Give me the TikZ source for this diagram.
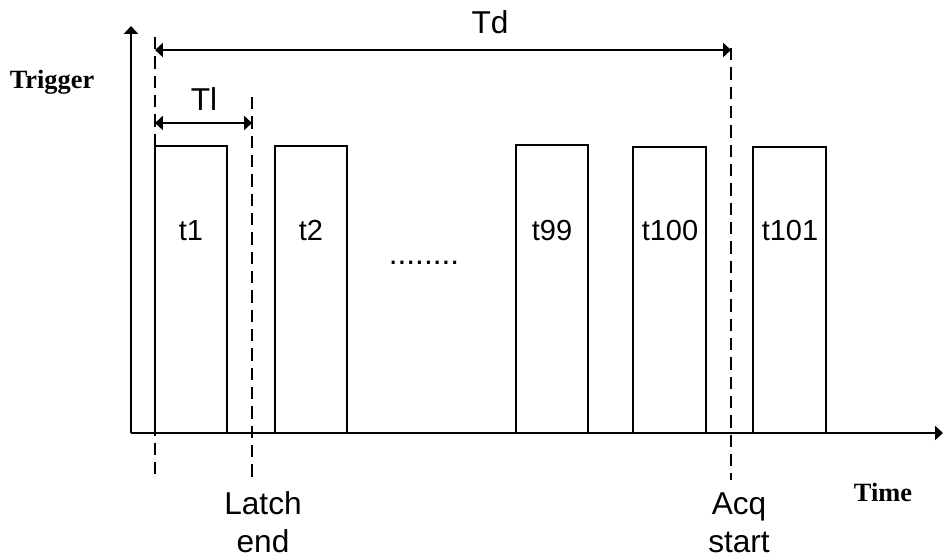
\documentclass[tikz,border=0pt]{standalone}
\usepackage{fontspec}
\setmainfont{Liberation Sans}
\newfontfamily\serifbf{Liberation Serif}
\usetikzlibrary{arrows.meta}
\begin{document}
\begin{tikzpicture}[x=0.02cm,y=-0.02cm,line width=1.1pt]
\tikzstyle{lbl}=[anchor=base, inner sep=0pt, align=center, font=\fontsize{18}{21.5}\selectfont]
\tikzstyle{plbl}=[anchor=base, inner sep=0pt, font=\fontsize{16.5}{20}\selectfont]
\tikzstyle{axlbl}=[anchor=base, inner sep=0pt, font=\serifbf\bfseries\fontsize{15}{18}\selectfont]
\tikzstyle{tip}=[-{Triangle[length=4.5pt,width=8pt]}]
\tikzstyle{dim}=[{Triangle[length=4.5pt,width=8pt]}-{Triangle[length=4.5pt,width=8pt]}]
\tikzstyle{marker}=[dash pattern=on 7pt off 4pt, line width=1pt]
    \useasboundingbox (0,0) rectangle (944,559);

    \coordinate (o) at (131,433);
    \coordinate (ytop) at (131,26);
    \coordinate (xend) at (943,433);
    \draw[tip] (o) -- (ytop);
    \draw[tip] (o) -- (xend);

    \draw (155,433) |- (227,146) -- (227,433);
    \draw (275,433) |- (347,146) -- (347,433);
    \draw (516,433) |- (588,145) -- (588,433);
    \draw (633,433) |- (706,147) -- (706,433);
    \draw (753,433) |- (826,147) -- (826,433);

    \coordinate (s0) at (155,37);
    \coordinate (s1) at (155,477);
    \coordinate (l0) at (252,97);
    \coordinate (l1) at (252,483);
    \coordinate (a0) at (731,48);
    \coordinate (a1) at (731,480);
    \draw[marker] (s0) -- (s1);
    \draw[marker] (l0) -- (l1);
    \draw[marker] (a0) -- (a1);

    \coordinate (tdl) at (155,50);
    \coordinate (tdr) at (731,50);
    \coordinate (tll) at (155,123);
    \coordinate (tlr) at (252,123);
    \draw[dim] (tdl) -- (tdr);
    \draw[dim] (tll) -- (tlr);

    \node[lbl] (Td) at (490,33) {Td};
    \node[lbl] (Tl) at (204,110) {Tl};
    \node[plbl] (t1) at (191,240) {t1};
    \node[plbl] (t2) at (311,240) {t2};
    \node[lbl] (dots) at (424,264) {........};
    \node[plbl] (t99) at (552,240) {t99};
    \node[plbl] (t100) at (670,240) {t100};
    \node[plbl] (t101) at (790,240) {t101};
    \node[lbl] (latch) at (263,552) {Latch\\end};
    \node[lbl] (acq) at (739,552) {Acq\\start};
    \node[axlbl] (trig) at (52,88) {Trigger};
    \node[axlbl] (time) at (883,501) {Time};

\end{tikzpicture}
\end{document}
